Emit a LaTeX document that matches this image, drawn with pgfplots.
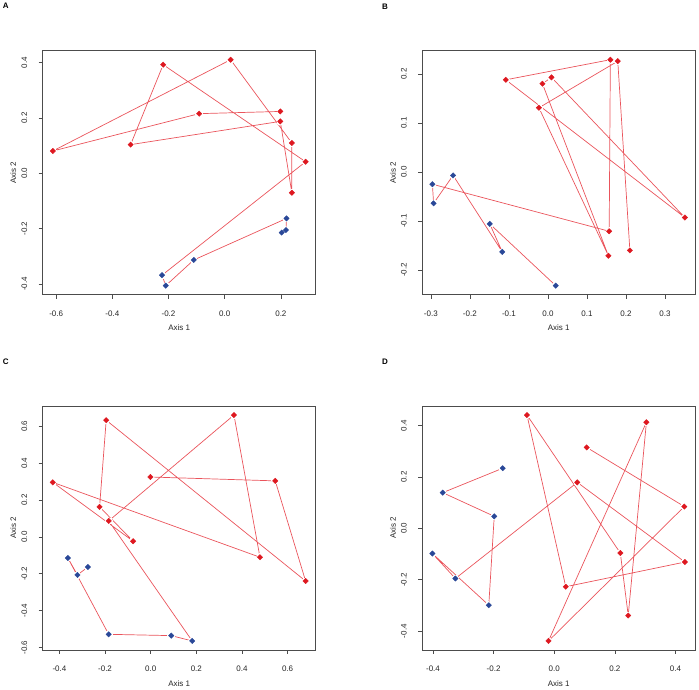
\documentclass[border=0pt]{standalone}
\usepackage{fontspec}
\setmainfont{Liberation Sans}
\usepackage{pgfplots}
\usepackage{pgfplotstable}
\pgfplotsset{compat=1.18}
\definecolor{ptred}{RGB}{222,24,32}
\definecolor{ptblue}{RGB}{42,72,152}
\definecolor{lnred}{RGB}{234,84,92}

% g: 0 = red group, 1 = blue group
\pgfplotstableread{
x y g
0.198 0.224 0
-0.091 0.216 0
-0.612 0.081 0
0.021 0.411 0
0.239 0.110 0
0.239 -0.070 0
0.198 0.188 0
-0.335 0.104 0
-0.219 0.393 0
0.288 0.042 0
-0.223 -0.368 1
-0.210 -0.406 1
-0.110 -0.313 1
0.220 -0.163 1
0.218 -0.205 1
0.203 -0.214 1
}\tabA

\pgfplotstableread{
x y g
0.210 -0.160 0
0.179 0.226 0
-0.023 0.131 0
0.155 -0.171 0
-0.014 0.180 0
0.009 0.193 0
0.351 -0.093 0
-0.108 0.188 0
0.160 0.229 0
0.157 -0.121 0
-0.296 -0.025 1
-0.293 -0.064 1
-0.243 -0.007 1
-0.117 -0.163 1
-0.149 -0.106 1
0.020 -0.232 1
}\tabB

\pgfplotstableread{
x y g
-0.001 0.325 0
0.546 0.304 0
0.679 -0.239 0
-0.195 0.633 0
-0.224 0.163 0
-0.077 -0.023 0
-0.429 0.296 0
0.479 -0.110 0
0.365 0.661 0
-0.184 0.087 0
0.182 -0.564 1
0.090 -0.535 1
-0.184 -0.528 1
-0.363 -0.114 1
-0.321 -0.206 1
-0.275 -0.163 1
}\tabC

\pgfplotstableread{
x y g
-0.170 0.234 1
-0.368 0.139 1
-0.198 0.047 1
-0.216 -0.299 1
-0.402 -0.098 1
-0.326 -0.195 1
0.076 0.179 0
0.431 -0.131 0
0.038 -0.227 0
-0.090 0.441 0
0.218 -0.096 0
0.244 -0.339 0
0.304 0.413 0
-0.019 -0.438 0
0.429 0.085 0
0.107 0.315 0
}\tabD

\pgfplotsset{
  panel/.style={
    scale only axis, width=273pt, height=244pt, anchor=south west,
    axis line style={draw=black!70, line width=0.8pt},
    tick align=outside, xtick pos=bottom, ytick pos=left,
    major tick length=4pt,
    tick style={draw=black!70, line width=0.7pt},
    tick label style={font=\fontsize{8}{9}\selectfont, text=black!85},
    xticklabel style={anchor=center, yshift=-14.7pt},
    yticklabel style={anchor=center, xshift=-14.4pt, rotate=90},
    xlabel={Axis 1}, ylabel={Axis 2},
    every axis x label/.style={at={(axis description cs:0.5,0)}, anchor=center, yshift=-33.3pt, font=\fontsize{8}{9}\selectfont, text=black!85},
    every axis y label/.style={at={(axis description cs:0,0.5)}, anchor=center, xshift=-29.4pt, rotate=90, font=\fontsize{8}{9}\selectfont, text=black!85},
  },
  pathline/.style={lnred, line width=0.7pt, no marks},
  gapmarks/.style={white, only marks, mark=*, mark size=3.3pt, mark options={draw=white, fill=white, line width=0pt}},
  redmarks/.style={ptred, only marks, mark=square*, mark size=1.9pt, mark options={rotate=45, draw=ptred, fill=ptred},
    x filter/.expression={\thisrow{g}==0 ? x : nan}},
  bluemarks/.style={ptblue, only marks, mark=square*, mark size=1.9pt, mark options={rotate=45, draw=ptblue, fill=ptblue},
    x filter/.expression={\thisrow{g}==1 ? x : nan}},
}

\newcommand{\panelplots}[1]{%
\addplot[pathline] table[x=x,y=y] {#1};
\addplot[gapmarks] table[x=x,y=y] {#1};
\addplot[redmarks] table[x=x,y=y] {#1};
\addplot[bluemarks] table[x=x,y=y] {#1};
}

\begin{document}
\begin{tikzpicture}
\useasboundingbox (0pt,0pt) rectangle (699pt,690pt);

\node[font=\fontsize{8}{9}\selectfont\bfseries] at (5.7pt,684.2pt) {A};
\node[font=\fontsize{8}{9}\selectfont\bfseries] at (385pt,683.3pt) {B};
\node[font=\fontsize{8}{9}\selectfont\bfseries] at (5.8pt,328.3pt) {C};
\node[font=\fontsize{8}{9}\selectfont\bfseries] at (385pt,328pt) {D};

\begin{axis}[panel, at={(42.7pt,395.3pt)},
  xmin=-0.648, xmax=0.324, ymin=-0.4387, ymax=0.4437,
  xtick={-0.6,-0.4,-0.2,0,0.2}, xticklabels={-0.6,-0.4,-0.2,0.0,0.2},
  ytick={-0.4,-0.2,0,0.2,0.4}, yticklabels={-0.4,-0.2,0.0,0.2,0.4}]
\panelplots{\tabA}
\end{axis}

\begin{axis}[panel, at={(422.3pt,395.3pt)}, width=272.7pt,
  xmin=-0.3219, xmax=0.3769, ymin=-0.2504, ymax=0.2474,
  xtick={-0.3,-0.2,-0.1,0,0.1,0.2,0.3}, xticklabels={-0.3,-0.2,-0.1,0.0,0.1,0.2,0.3},
  ytick={-0.2,-0.1,0,0.1,0.2}, yticklabels={-0.2,-0.1,0.0,0.1,0.2}]
\panelplots{\tabB}
\end{axis}

\begin{axis}[panel, at={(42.7pt,40pt)},
  xmin=-0.4733, xmax=0.7233, ymin=-0.613, ymax=0.710,
  xtick={-0.4,-0.2,0,0.2,0.4,0.6}, xticklabels={-0.4,-0.2,0.0,0.2,0.4,0.6},
  ytick={-0.6,-0.4,-0.2,0,0.2,0.4,0.6}, yticklabels={-0.6,-0.4,-0.2,0.0,0.2,0.4,0.6}]
\panelplots{\tabC}
\end{axis}

\begin{axis}[panel, at={(422.3pt,40pt)}, width=272.7pt,
  xmin=-0.4353, xmax=0.4643, ymin=-0.4732, ymax=0.4762,
  xtick={-0.4,-0.2,0,0.2,0.4}, xticklabels={-0.4,-0.2,0.0,0.2,0.4},
  ytick={-0.4,-0.2,0,0.2,0.4}, yticklabels={-0.4,-0.2,0.0,0.2,0.4}]
\panelplots{\tabD}
\end{axis}
\end{tikzpicture}
\end{document}
